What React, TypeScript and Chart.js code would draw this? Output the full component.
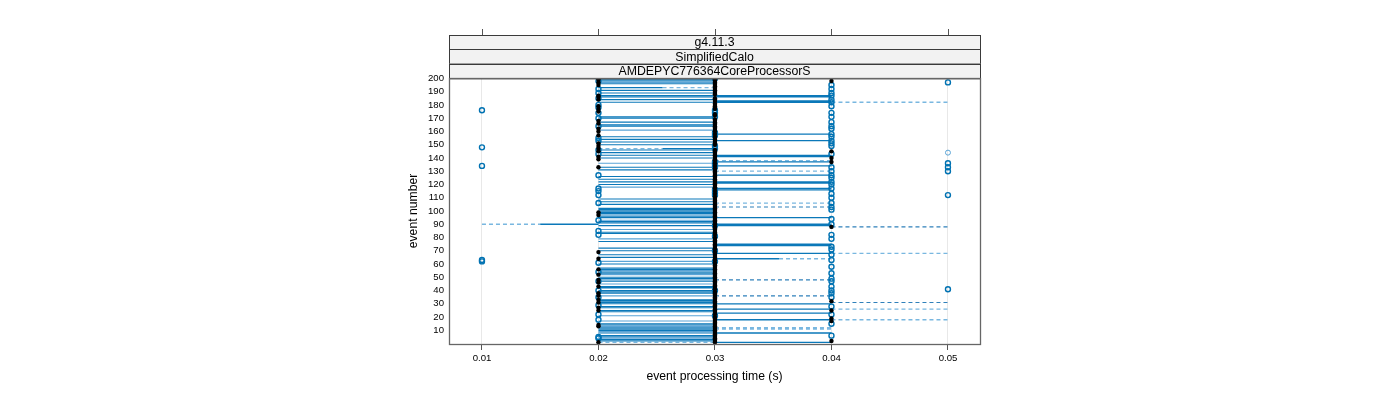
import React, { useEffect, useRef } from "react";
import { Chart, registerables } from "chart.js";

Chart.register(...registerables);

// ---------- data ----------
const xTicks = [0.01, 0.02, 0.03, 0.04, 0.05];
const xTickLabels = ["0.01", "0.02", "0.03", "0.04", "0.05"];
const yTicks = [10, 20, 30, 40, 50, 60, 70, 80, 90, 100, 110, 120, 130, 140, 150, 160, 170, 180, 190, 200];
const stripLabels = ["g4.11.3", "SimplifiedCalo", "AMDEPYC776364CoreProcessorS"];
const xTitle = "event processing time (s)";
const yTitle = "event number";

// events joined by a solid line between 0.02 s and 0.03 s
const band23Solid = [199, 198, 196, 191, 189, 187, 186, 184, 182, 171, 170, 167, 165, 164, 156, 154, 152, 150, 146, 144, 142, 140, 133, 131, 126, 124, 122, 120, 109, 107, 105, 102, 101, 100, 99, 98, 96, 95, 92, 91, 89, 84, 83, 77, 72, 70, 67, 65, 60, 57, 56, 54, 53, 50, 49, 47, 43, 42, 40, 39, 38, 33, 32, 31, 30, 28, 27, 25, 24, 15, 14, 12, 11, 10, 8, 6, 5, 3, 2];
const band23Light = [197, 161, 136, 118, 97, 93, 86, 79, 62, 55, 52, 48, 45, 36, 21, 17, 13, 9, 4];
// events joined between 0.03 s and 0.04 s
const band34Solid = [187, 186, 183, 182, 158, 153, 142, 141, 137, 134, 127, 122, 121, 117, 116, 95, 90, 89, 75, 74, 68, 30, 26, 23, 18, 8, 1];
const band34Dashed = [138, 130, 106, 12, 11];
const band34DashedDark = [103, 48, 36];
// events joined between 0.04 s and 0.05 s
const band45Dashed = [182, 68, 26, 18];
const band45DashedDark = [88, 31];
// partial segments: [event, from, to]
const partialSolid: [number, number, number][] = [
  [193, 0.02, 0.0255],
  [147, 0.0255, 0.03],
  [90, 0.015, 0.02],
  [64, 0.03, 0.0355],
];
const partialDashed: [number, number, number][] = [
  [193, 0.0255, 0.03],
  [147, 0.02, 0.0255],
  [90, 0.01, 0.015],
  [64, 0.0355, 0.04],
  [1, 0.02, 0.03],
];

// point markers per time column
const blueAt01 = [176, 148, 134, 63, 62];
const blueAt02 = [198, 192, 189, 185, 180, 178, 174, 170, 164, 155, 153, 146, 143, 127, 117, 115, 112, 106, 93, 85, 82, 61, 54, 47, 40, 35, 29, 22, 18, 5, 4];
const blueAt03 = [200, 176, 174, 171, 159, 157, 149, 147, 137, 135, 133, 116, 114, 112, 89, 81, 70, 62, 40, 21];
const blueAt04 = [195, 192, 189, 187, 184, 182, 179, 174, 171, 167, 164, 162, 158, 156, 153, 151, 149, 143, 133, 130, 127, 125, 122, 120, 117, 113, 110, 106, 103, 101, 94, 90, 82, 79, 73, 71, 67, 63, 58, 53, 49, 47, 43, 40, 38, 35, 28, 22, 15, 6];
const blueAt05 = [197, 136, 133, 130, 112, 41];
const blueAt05Light = [144];
const blackAt02 = [200, 199, 197, 195, 187, 186, 184, 179, 177, 175, 168, 166, 162, 160, 157, 151, 149, 147, 145, 141, 139, 133, 99, 97, 69, 64, 56, 52, 48, 46, 43, 38, 36, 33, 31, 27, 25, 14, 13, 1];
const blackAt03 = [200, 199, 198, 197, 196, 195, 194, 193, 192, 191, 190, 189, 188, 185, 184, 183, 181, 180, 179, 178, 177, 173, 172, 169, 168, 167, 166, 165, 164, 163, 162, 161, 160, 158, 156, 155, 154, 153, 152, 151, 150, 146, 145, 144, 143, 142, 141, 140, 139, 138, 136, 134, 132, 131, 130, 129, 128, 127, 126, 125, 124, 123, 122, 121, 120, 119, 118, 117, 115, 113, 111, 110, 109, 108, 107, 106, 105, 104, 103, 102, 101, 100, 99, 98, 97, 96, 95, 94, 93, 92, 91, 90, 88, 87, 86, 85, 84, 83, 82, 80, 79, 78, 77, 76, 75, 74, 73, 72, 71, 69, 68, 67, 66, 65, 64, 63, 61, 60, 59, 58, 57, 56, 55, 54, 53, 52, 51, 50, 49, 48, 47, 46, 45, 44, 43, 42, 41, 39, 38, 37, 36, 35, 34, 33, 32, 31, 30, 29, 28, 27, 26, 25, 24, 23, 22, 20, 19, 18, 17, 16, 15, 14, 13, 12, 11, 10, 9, 8, 7, 6, 5, 4, 3, 2, 1];
const blackAt04 = [198, 145, 140, 137, 88, 32, 25, 19, 17, 2];

// ---------- helpers ----------
const FONT = "'Liberation Sans', Arial, sans-serif";

type P = { x: number; y: number | null };

function bandSegs(events: number[], from: number, to: number): P[] {
  const out: P[] = [];
  events.forEach((e) => {
    out.push({ x: from, y: e }, { x: to, y: e }, { x: to, y: null });
  });
  return out;
}
function partSegs(list: [number, number, number][]): P[] {
  const out: P[] = [];
  list.forEach(([e, a, b]) => {
    out.push({ x: a, y: e }, { x: b, y: e }, { x: b, y: null });
  });
  return out;
}
function column(events: number[], x: number): P[] {
  return events.map((e) => ({ x, y: e }));
}

function lineDs(data: P[], color: string, width: number, dash: number[], order: number) {
  return {
    type: "scatter" as const,
    data,
    showLine: true,
    spanGaps: false,
    borderColor: color,
    borderWidth: width,
    borderDash: dash,
    pointRadius: 0,
    pointHoverRadius: 0,
    fill: false,
    tension: 0,
    order,
  };
}
function pointDs(data: P[], border: string, bg: string, radius: number, bw: number, order: number) {
  return {
    type: "scatter" as const,
    data,
    showLine: false,
    pointStyle: "circle",
    pointRadius: radius,
    pointBorderColor: border,
    pointBackgroundColor: bg,
    pointBorderWidth: bw,
    borderColor: border,
    backgroundColor: bg,
    order,
  };
}

const panelPlugin = {
  id: "latticePanel",
  afterDraw(chart: any) {
    const { ctx, chartArea: a, scales } = chart;
    const L = Math.round(a.left) + 0.5;
    const R = Math.round(a.right) + 0.5;
    const T = Math.round(a.top) + 0.5;
    const B = Math.round(a.bottom) + 0.5;
    ctx.save();
    // strips
    const stripH = (a.top - 35) / 3;
    ctx.font = `12.3px ${FONT}`;
    ctx.textAlign = "center";
    ctx.textBaseline = "middle";
    for (let i = 0; i < 3; i++) {
      const top = 35 + i * stripH;
      ctx.fillStyle = "#f2f2f2";
      ctx.fillRect(L, top, R - L, stripH);
      ctx.strokeStyle = "#3a3a3a";
      ctx.lineWidth = 1;
      ctx.strokeRect(L, Math.round(top) + 0.5, R - L, stripH);
      ctx.fillStyle = "#000";
      ctx.fillText(stripLabels[i], (a.left + a.right) / 2, top + stripH / 2 + 0.7);
    }
    // top ticks
    ctx.strokeStyle = "#555";
    ctx.lineWidth = 1;
    xTicks.forEach((v) => {
      const x = Math.round(scales.x.getPixelForValue(v)) + 0.5;
      ctx.beginPath();
      ctx.moveTo(x, 29);
      ctx.lineTo(x, 35);
      ctx.stroke();
    });
    // panel border
    ctx.strokeStyle = "#666";
    ctx.lineWidth = 1.3;
    ctx.strokeRect(L, T, R - L, B - T);
    ctx.restore();
  },
};

export default function App() {
  const ref = useRef<HTMLCanvasElement | null>(null);
  useEffect(() => {
    if (!ref.current) return;
    const dark = "#0b78b9";
    const light = "#5aa4d6";
    const dashLight = "#79b7e0";
    const dashDark = "#2f80ba";
    const blue = "#0072B2";
    const datasets: any[] = [
      pointDs(column(blackAt02, 0.02), "#000", "#000", 2.2, 0, 1),
      pointDs(column(blackAt03, 0.03), "#000", "#000", 2.2, 0, 1),
      pointDs(column(blackAt04, 0.04), "#000", "#000", 2.2, 0, 1),
      pointDs(column(blueAt01, 0.01), blue, "rgba(0,0,0,0)", 2.5, 1.4, 2),
      pointDs(column(blueAt02, 0.02), blue, "rgba(0,0,0,0)", 2.5, 1.4, 2),
      pointDs(column(blueAt03, 0.03), blue, "rgba(0,0,0,0)", 2.5, 1.4, 2),
      pointDs(column(blueAt04, 0.04), blue, "rgba(0,0,0,0)", 2.5, 1.4, 2),
      pointDs(column(blueAt05, 0.05), blue, "rgba(0,0,0,0)", 2.5, 1.4, 2),
      pointDs(column(blueAt05Light, 0.05), "#5aa4d6", "rgba(0,0,0,0)", 2.5, 1.0, 2),
      lineDs(bandSegs(band23Light, 0.02, 0.03), light, 1.1, [], 5),
      lineDs(bandSegs(band23Solid, 0.02, 0.03), dark, 1.1, [], 4),
      lineDs(bandSegs(band34Solid, 0.03, 0.04), dark, 1.3, [], 4),
      lineDs(bandSegs(band34Dashed, 0.03, 0.04), dashLight, 1.3, [4, 3], 6),
      lineDs(bandSegs(band34DashedDark, 0.03, 0.04), dashDark, 1.2, [4, 3], 6),
      lineDs(bandSegs(band45Dashed, 0.04, 0.05), dashLight, 1.3, [4, 3], 6),
      lineDs(bandSegs(band45DashedDark, 0.04, 0.05), dashDark, 1.2, [4, 3], 6),
      lineDs(partSegs(partialSolid), dark, 1.3, [], 4),
      lineDs(partSegs(partialDashed), dashLight, 1.3, [4, 3], 6),
    ];
    const chart = new Chart(ref.current, {
      type: "scatter",
      data: { datasets },
      plugins: [panelPlugin],
      options: {
        animation: false,
        responsive: false,
        devicePixelRatio: 1,
        events: [],
        layout: { padding: { left: 400, right: 420, top: 78, bottom: 0 } },
        plugins: { legend: { display: false }, tooltip: { enabled: false } },
        scales: {
          x: {
            type: "linear",
            min: 0.00717,
            max: 0.05275,
            afterBuildTicks: (s: any) => {
              s.ticks = xTicks.map((v) => ({ value: v }));
            },
            afterFit: (s: any) => {
              s.height = 56;
            },
            ticks: {
              autoSkip: false,
              maxRotation: 0,
              padding: 3,
              color: "#000",
              font: { family: FONT, size: 9.6 },
              callback: (v: any) => {
                const i = xTicks.findIndex((t) => Math.abs(t - Number(v)) < 1e-9);
                return i >= 0 ? xTickLabels[i] : "";
              },
            },
            grid: { color: "#e8e8e8", tickColor: "#555", tickLength: 6, drawOnChartArea: true, lineWidth: 1 },
            border: { display: false },
            title: {
              display: true,
              text: xTitle,
              color: "#000",
              font: { family: FONT, size: 12.2 },
              padding: { top: 0, bottom: 16 },
            },
          },
          y: {
            type: "linear",
            min: -0.3,
            max: 200.3,
            afterBuildTicks: (s: any) => {
              s.ticks = yTicks.map((v) => ({ value: v }));
            },
            afterFit: (s: any) => {
              s.width = 49;
            },
            ticks: {
              autoSkip: false,
              padding: 5,
              color: "#000",
              font: { family: FONT, size: 9.6 },
              callback: (v: any) => String(v),
            },
            grid: { display: false, drawTicks: false },
            border: { display: false },
            title: {
              display: true,
              text: yTitle,
              color: "#000",
              font: { family: FONT, size: 12.2 },
              padding: { top: 6, bottom: 0 },
            },
          },
        },
      },
    } as any);
    return () => chart.destroy();
  }, []);
  return (
    <div style={{ position: "fixed", left: 0, top: 0, width: 1400, height: 400, background: "#fff" }}>
      <canvas ref={ref} width={1400} height={400} style={{ display: "block", width: 1400, height: 400 }} />
    </div>
  );
}
